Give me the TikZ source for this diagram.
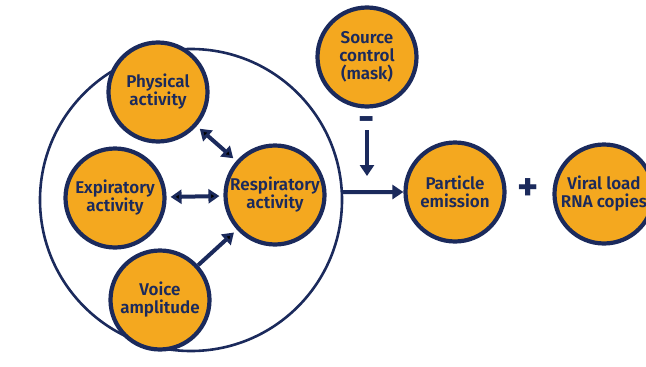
\documentclass[tikz,border=0pt]{standalone}
\usepackage{fontspec}
\setmainfont{Fira Sans}[BoldFont={Fira Sans SemiBold}]
\newfontfamily\signfont{Fira Sans Bold}
\usetikzlibrary{arrows.meta}
\definecolor{navy}{HTML}{1B2A5C}
\definecolor{amber}{HTML}{F4A81F}

\begin{document}
\begin{tikzpicture}[
    x = 1pt, y = -1pt,
    > = {Triangle[length=11pt, width=14pt]},
    factor/.style={circle, draw=navy, fill=amber, line width=4.2pt,
        minimum size=99pt, inner sep=0pt, align=center, text=navy,
        font=\bfseries\fontsize{17}{18}\selectfont},
    link/.style={draw=navy, line width=4pt},
    sign/.style={text=navy, inner sep=0pt, font=\signfont\fontsize{40}{40}\selectfont}
]
    \useasboundingbox (0,0) rectangle (646,367);

    % outer ring
    \node[circle, draw=navy, line width=2.6pt, minimum size=302pt] (ring) at (191,200) {};

    \node[factor] (phys) at (158,92) {Physical\\activity};
    \node[factor] (expi) at (115,198) {Expiratory\\activity};
    \node[factor] (resp) at (275,195) {Respiratory\\activity};
    \node[factor] (voice) at (160,300) {Voice\\amplitude};
    \node[factor] (mask) at (367,57) {Source\\control\\(mask)};
    \node[factor] (part) at (455,192) {Particle\\emission};
    \node[factor] (load) at (604,194) {Viral load\\RNA copies};

    \coordinate (join) at (367,192);
    \coordinate (cut) at (367,130);
    \node[sign] (minus) at (367,124) {-};
    \node[sign] (plus) at (528,190) {+};

    \path[<->, link, shorten <=4pt, shorten >=4pt]
        (phys) edge (resp)
        (expi) edge (resp);
    \path[->, link, shorten >=4pt]
        (voice) edge (resp);
    \draw[->, link] (ring.3) -- (part);
    \draw[->, link, shorten >=16pt] (cut) -- (join);
\end{tikzpicture}
\end{document}
